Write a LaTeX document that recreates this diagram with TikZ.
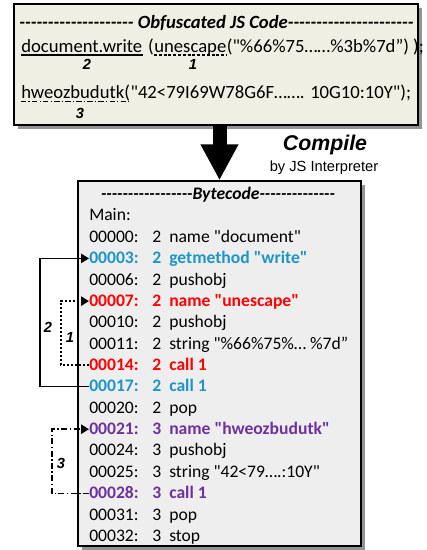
\documentclass[tikz,border=0pt]{standalone}
\usepackage{fontspec}
\newfontfamily\calfont{Carlito}
\newfontfamily\arialfont{Liberation Sans}
\usetikzlibrary{arrows.meta,shadows,calc}

\definecolor{jsfill}{HTML}{EFEFE3}
\definecolor{bcfill}{HTML}{EEEEEE}
\definecolor{callblue}{HTML}{1D95C9}
\definecolor{callred}{HTML}{FF0000}
\definecolor{callpurple}{HTML}{7030A0}

% one bytecode row: offset, line number, instruction
\newcommand\bccols[3]{\makebox[47.25pt][l]{#1:}\makebox[12.75pt][l]{#2}#3}

\tikzset{
  panel/.style={draw=black, line width=1pt, inner sep=0pt,
    general shadow={fill=black!42, draw=none, shadow xshift=3.2pt, shadow yshift=-3.2pt}},
  codefont/.style={font=\calfont\fontsize{13.2}{15}\selectfont},
  srcfont/.style={font=\calfont\fontsize{14}{16}\selectfont},
  codetext/.style={srcfont, inner sep=0pt, anchor=base west},
  row/.style={codefont, inner sep=0pt, anchor=west, text height=11pt, text depth=3pt},
  hotrow/.style={row, text=#1, font=\calfont\fontsize{13.2}{15}\selectfont\bfseries},
  numlabel/.style={font=\arialfont\bfseries\itshape\fontsize{11}{12}\selectfont, inner sep=0pt},
  conn/.style={line width=1.2pt, -{Triangle[length=6pt,width=7pt]}},
}

\begin{document}
\begin{tikzpicture}[x=0.75pt,y=-0.75pt]
\useasboundingbox (0,0) rectangle (427,550);

% ---------- source panel ----------
\node[panel, fill=jsfill, minimum width=303pt, minimum height=90.75pt] (js) at (216,64.5) {};
\node[codetext, anchor=base, font=\calfont\fontsize{14}{16}\selectfont\bfseries\itshape] (jshead) at (216.5,28)
  {-------------------- Obfuscated JS Code----------------------};

\node[codetext] (dw) at (21,52.5) {document.write};
\node[codetext] (paren) at (dw.base east) {\hspace{4pt}(\hspace{4pt}};
\node[codetext] (ue) at (paren.base east) {unescape};
\node[codetext] (uearg) at (ue.base east) {("\%66\%75……\%3b\%7d”) );};

\node[codetext] (hw) at (21,98.5) {hweozbudutk(};
\node[codetext] (hwarg) at (hw.base east) {"42<79I69W78G6F……. 10G10:10Y");};

\draw[line width=1.1pt] ($(dw.base west)+(0,2.6)$) -- ($(dw.base east)+(0,2.6)$);
\draw[line width=1.4pt, dash pattern=on 2.2pt off 1.4pt] ($(ue.base west)+(0,2.6)$) -- ($(ue.base east)+(0,2.6)$);
\draw[line width=1.2pt, dash pattern=on 4pt off 1.6pt on 1.1pt off 1.6pt] ($(hw.base west)+(0,3)$) -- ($(hw.base east)+(-2,3)$);

\node[numlabel] (t2) at (87,64) {2};
\node[numlabel] (t1) at (193,64) {1};
\node[numlabel] (t3) at (80,113) {3};

% ---------- bytecode panel ----------
\node[panel, fill=bcfill, minimum width=212.25pt, minimum height=273.75pt] (bc) at (219.5,363.5) {};

\node[row, anchor=center, font=\calfont\fontsize{13.2}{15}\selectfont\bfseries\itshape] (bchead) at (218,194.3)
  {-----------------Bytecode--------------};
\node[row] (main) at (89,215.6) {Main:};
\node[row] (l00) at (89,237.0) {\bccols{00000}{2}{name "document"}};
\node[hotrow=callblue] (l03) at (89,258.4) {\bccols{00003}{2}{getmethod "write"}};
\node[row] (l06) at (89,279.7) {\bccols{00006}{2}{pushobj}};
\node[hotrow=callred] (l07) at (89,301.1) {\bccols{00007}{2}{name "unescape"}};
\node[row] (l10) at (89,322.4) {\bccols{00010}{2}{pushobj}};
\node[row] (l11) at (89,343.8) {\bccols{00011}{2}{string "\%66\%75\%… \%7d”}};
\node[hotrow=callred] (l14) at (89,365.2) {\bccols{00014}{2}{call 1}};
\node[hotrow=callblue] (l17) at (89,386.5) {\bccols{00017}{2}{call 1}};
\node[row] (l20) at (89,407.9) {\bccols{00020}{2}{pop}};
\node[hotrow=callpurple] (l21) at (89,429.2) {\bccols{00021}{3}{name "hweozbudutk"}};
\node[row] (l24) at (89,450.6) {\bccols{00024}{3}{pushobj}};
\node[row] (l25) at (89,472.0) {\bccols{00025}{3}{string "42<79….:10Y"}};
\node[hotrow=callpurple] (l28) at (89,493.3) {\bccols{00028}{3}{call 1}};
\node[row] (l31) at (89,514.7) {\bccols{00031}{3}{pop}};
\node[row] (l32) at (89,536.0) {\bccols{00032}{3}{stop}};

% ---------- compile arrow ----------
\draw[line width=10.5pt, -{Triangle[length=27pt,width=26.5pt]}] (js.south -| bc.north) -- (bc.north);
\node[font=\arialfont\bfseries\itshape\fontsize{16}{18}\selectfont, inner sep=0pt] (compile) at (325,145) {Compile};
\node[font=\arialfont\fontsize{11}{12}\selectfont, inner sep=0pt] (interp) at (324,168) {by JS Interpreter};

% ---------- call links ----------
\draw[conn] (l17.west) -- ++(-49,0) |- (l03.west);
\draw[conn, dash pattern=on 1.6pt off 1.4pt] (l14.west) -- ++(-28,0) |- (l07.west);
\draw[conn, dash pattern=on 4.5pt off 1.8pt on 1.1pt off 1.8pt] (l28.west) -- ++(-37,0) |- (l21.west);

\node[numlabel] (b2) at (48,327) {2};
\node[numlabel] (b1) at (70,337) {1};
\node[numlabel] (b3) at (61,463) {3};
\end{tikzpicture}
\end{document}
